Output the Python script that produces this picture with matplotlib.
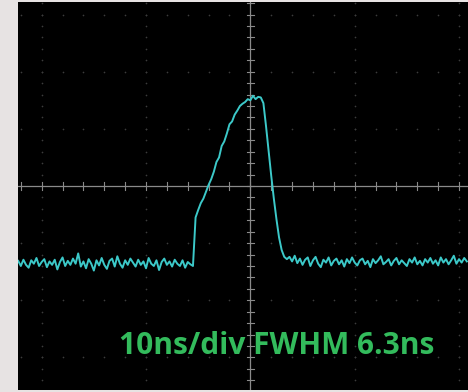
import matplotlib
matplotlib.use("Agg")
import matplotlib.pyplot as plt
import numpy as np

# scope trace, sampled every 0.25 ns starting at -22.25 ns, values in divisions
t_start = -22.25
t_step = 0.25
baseline_left = [
    -1.31, -1.40, -1.29, -1.38, -1.43, -1.30, -1.36, -1.26, -1.40, -1.33,
    -1.28, -1.42, -1.32, -1.38, -1.29, -1.46, -1.33, -1.25, -1.40, -1.31,
    -1.38, -1.27, -1.36, -1.18, -1.41, -1.32, -1.44, -1.28, -1.36, -1.48,
    -1.30, -1.39, -1.26, -1.38, -1.45, -1.31, -1.27, -1.41, -1.23, -1.36,
    -1.43, -1.30, -1.38, -1.27, -1.34, -1.41, -1.29, -1.38, -1.32, -1.44,
    -1.26, -1.36, -1.40, -1.30, -1.47, -1.33, -1.27, -1.38, -1.32, -1.41,
    -1.29, -1.36, -1.40, -1.30, -1.43, -1.33, -1.37, -1.40,
]
pulse = [
    -0.55, -0.42, -0.30, -0.22, -0.10, 0.02, 0.12, 0.25, 0.42, 0.50,
    0.70, 0.78, 0.92, 1.08, 1.13, 1.25, 1.32, 1.40, 1.44, 1.47,
    1.52, 1.50, 1.58, 1.52, 1.56, 1.55, 1.45, 1.05, 0.62, 0.18,
    -0.22, -0.58, -0.90, -1.12, -1.24, -1.28,
]
baseline_right = [
    -1.24, -1.32, -1.22, -1.35, -1.27, -1.38, -1.29, -1.25, -1.40, -1.30,
    -1.24, -1.36, -1.42, -1.29, -1.34, -1.25, -1.39, -1.31, -1.27, -1.37,
    -1.30, -1.41, -1.28, -1.35, -1.25, -1.34, -1.39, -1.30, -1.27, -1.37,
    -1.31, -1.42, -1.28, -1.35, -1.30, -1.23, -1.37, -1.33, -1.28, -1.39,
    -1.31, -1.26, -1.37, -1.30, -1.35, -1.40, -1.28, -1.34, -1.25, -1.37,
    -1.31, -1.39, -1.28, -1.34, -1.26, -1.36, -1.30, -1.39, -1.25, -1.34,
    -1.28, -1.37, -1.30, -1.22, -1.36, -1.28, -1.34, -1.26, -1.32,
]
label = "10ns/div FWHM 6.3ns"

volts = np.array(baseline_left + pulse + baseline_right)
times = t_start + t_step * np.arange(len(volts))

W, H = 468, 392
fig = plt.figure(figsize=(W / 100, H / 100), dpi=100)
fig.patch.set_facecolor("#e7e3e3")
ax = fig.add_axes([18 / W, 2 / H, 450 / W, 388 / H])
ax.set_facecolor("black")
ax.set_xlim(-22.27, 20.86)
ax.set_ylim(-3.57, 3.22)
for s in ax.spines.values():
    s.set_visible(False)
ax.set_xticks([])
ax.set_yticks([])

# graticule dots
dot_c = "#3c3c3c"
for gx in [-20, -10, 10, 20]:
    ys = np.arange(-3.6, 3.3, 0.2)
    ax.scatter(np.full_like(ys, gx), ys, s=1.5, color=dot_c, lw=0, zorder=1)
for gy in [-3, -2, -1, 1, 2, 3]:
    xs = np.arange(-22, 21, 2.0)
    ax.scatter(xs, np.full_like(xs, gy), s=1.5, color=dot_c, lw=0, zorder=1)

# centre cross with ticks
cc = "#8a8a8a"
ax.axvline(0, color=cc, lw=0.9, zorder=2)
ax.axhline(0, color=cc, lw=0.9, zorder=2)
for yy in np.arange(-3.6, 3.3, 0.2):
    ax.plot([-0.35, 0.35], [yy, yy], color=cc, lw=0.8, zorder=2)
for xx in np.arange(-22, 21, 2.0):
    ax.plot([xx, xx], [-0.07, 0.07], color=cc, lw=0.8, zorder=2)

ax.plot(times, volts, color="#3cc9c9", lw=1.4, zorder=3)

fig.text(277 / W, 1 - 346 / H, label, color="#33bb5c", fontsize=21.5,
         fontweight="bold", family="Open Sans", ha="center", va="center")

fig.savefig("out.png", dpi=100, facecolor=fig.get_facecolor())
